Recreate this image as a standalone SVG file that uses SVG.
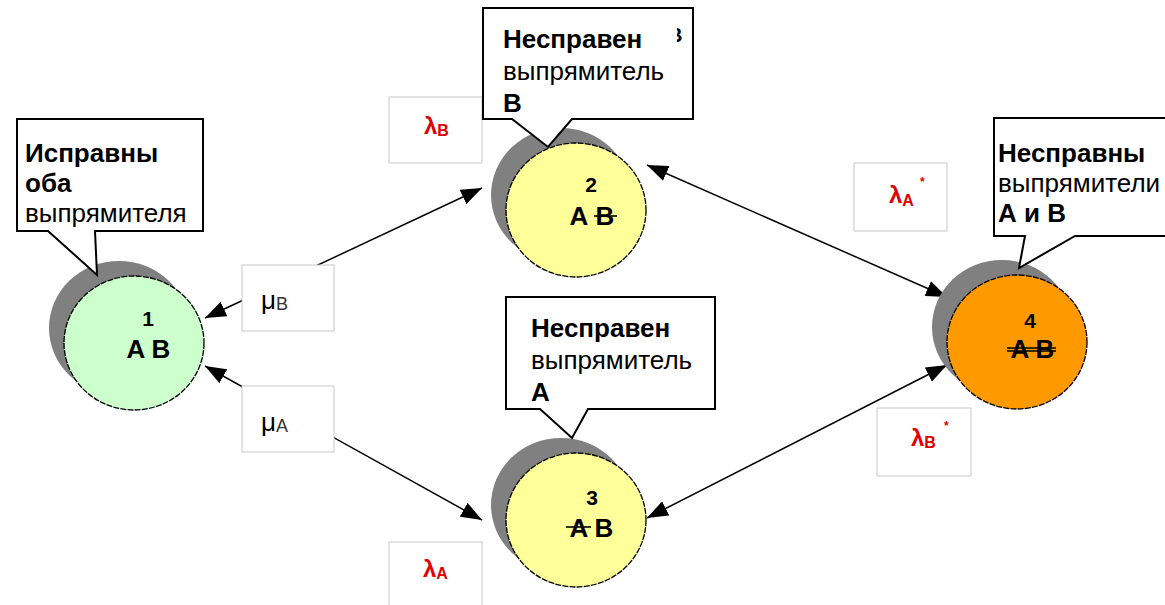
<svg xmlns="http://www.w3.org/2000/svg" width="1165" height="605" viewBox="0 0 1165 605">
<style>
text{font-family:"Liberation Sans",Arial,sans-serif;}
.shadow{fill:#808080;}
.node{stroke:#000;stroke-width:1.3;stroke-dasharray:6 1.2;}
.num{font-size:21px;font-weight:bold;fill:#000;text-anchor:middle;}
.st{font-size:26px;font-weight:bold;fill:#000;text-anchor:middle;}
.strike{stroke:#000;stroke-width:1.6;}
.callout{fill:#fff;stroke:#000;stroke-width:2;stroke-linejoin:miter;}
.ct{font-size:26px;fill:#000;}
.b{font-weight:bold;}
.lbl{fill:#fff;stroke:#c8c8c8;stroke-width:1;}
.lam{font-size:24px;font-weight:bold;fill:#e00000;}
.lamsub{font-size:16px;font-weight:bold;fill:#e00000;}
.ast{font-size:12px;font-weight:bold;fill:#e00000;}
.mu{font-size:26px;fill:#000;}
.musub{font-size:18px;fill:#333;}
.conn{stroke:#000;stroke-width:1.5;fill:none;marker-start:url(#ah);marker-end:url(#ah);}
</style>
<defs>
<marker id="ah" markerUnits="userSpaceOnUse" markerWidth="21" markerHeight="16" refX="21" refY="8" orient="auto-start-reverse">
<path d="M0,0 L21,8 L0,16 Z" fill="#000"/>
</marker>
<clipPath id="fragclip"><rect x="677" y="24" width="8" height="22"/></clipPath>
</defs>
<rect x="0" y="0" width="1165" height="605" fill="#fff"/>

<g id="connectors">
<line class="conn" x1="205" y1="318" x2="482" y2="188"/>
<line class="conn" x1="205" y1="366" x2="482" y2="520"/>
<line class="conn" x1="647" y1="165" x2="947" y2="297"/>
<line class="conn" x1="647" y1="518" x2="947" y2="365"/>
</g>

<g id="label-muB">
<rect class="lbl" x="242" y="265" width="92" height="66"/>
<text x="261" y="309"><tspan class="mu">μ</tspan><tspan class="musub" dy="1">B</tspan></text>
</g>
<g id="label-muA">
<rect class="lbl" x="242" y="386" width="92" height="66"/>
<text x="261" y="431"><tspan class="mu">μ</tspan><tspan class="musub" dy="1">A</tspan></text>
</g>
<g id="label-lamB">
<rect class="lbl" x="389" y="97" width="93" height="66"/>
<text x="424" y="134"><tspan class="lam">λ</tspan><tspan class="lamsub" dy="2">B</tspan></text>
</g>
<g id="label-lamA">
<rect class="lbl" x="389" y="542" width="93" height="66"/>
<text x="423" y="577"><tspan class="lam">λ</tspan><tspan class="lamsub" dy="2">A</tspan></text>
</g>
<g id="label-lamAstar">
<rect class="lbl" x="854" y="163" width="93" height="68"/>
<text x="889" y="203"><tspan class="lam">λ</tspan><tspan class="lamsub" dy="3">A</tspan></text>
<text class="ast" x="920" y="186">*</text>
</g>
<g id="label-lamBstar">
<rect class="lbl" x="877" y="408" width="94" height="68"/>
<text x="911" y="446"><tspan class="lam">λ</tspan><tspan class="lamsub" dy="2">B</tspan></text>
<text class="ast" x="944" y="430">*</text>
</g>

<g id="node1">
<ellipse class="shadow" cx="119" cy="328" rx="70" ry="67"/>
<ellipse class="node" cx="134" cy="343" rx="70" ry="67" fill="#ccffcc"/>
<text class="num" x="148" y="326">1</text>
<text class="st" x="136" y="358">A</text>
<text class="st" x="161" y="358">B</text>
</g>
<g id="node2">
<ellipse class="shadow" cx="561" cy="195" rx="70" ry="67"/>
<ellipse class="node" cx="576" cy="210" rx="70" ry="67" fill="#ffff99"/>
<text class="num" x="591" y="192">2</text>
<text class="st" x="579" y="225">A</text>
<text class="st" x="605" y="225">B</text>
<line class="strike" x1="594" y1="216" x2="617" y2="216"/>
</g>
<g id="node3">
<ellipse class="shadow" cx="561" cy="505" rx="70" ry="67"/>
<ellipse class="node" cx="576" cy="520" rx="70" ry="67" fill="#ffff99"/>
<text class="num" x="592" y="505">3</text>
<text class="st" x="579" y="537">A</text>
<text class="st" x="604" y="537">B</text>
<line class="strike" x1="566" y1="527" x2="591" y2="527"/>
</g>
<g id="node4">
<ellipse class="shadow" cx="1002" cy="327" rx="70" ry="67"/>
<ellipse class="node" cx="1017" cy="342" rx="70" ry="67" fill="#ff9900"/>
<text class="num" x="1030" y="328">4</text>
<text class="st" x="1020" y="358">A</text>
<text class="st" x="1045" y="358">B</text>
<line class="strike" x1="1007" y1="348" x2="1056" y2="348"/>
<line class="strike" x1="1007" y1="351" x2="1056" y2="351" stroke-width="1"/>
</g>

<g id="callout1">
<path class="callout" d="M17,119 H203 V231 H95 L97,275 L48,231 H17 Z"/>
<text class="ct" x="25" y="162"><tspan class="b">Исправны</tspan><tspan class="b" x="25" dy="30">оба</tspan><tspan x="25" dy="30">выпрямителя</tspan></text>
</g>
<g id="callout2">
<path class="callout" d="M483,8 H693 V119 H572 L548,147 L512,119 H483 Z"/>
<text class="ct" x="503" y="48"><tspan class="b">Несправен</tspan><tspan x="503" dy="32">выпрямитель</tspan><tspan class="b" x="503" dy="32">В</tspan></text>
<text class="b" x="668" y="42" font-size="20" clip-path="url(#fragclip)">В</text>
</g>
<g id="callout3">
<path class="callout" d="M506,297 H715 V409 H588 L572,438 L540,409 H506 Z"/>
<text class="ct" x="531" y="337"><tspan class="b">Несправен</tspan><tspan x="531" dy="32">выпрямитель</tspan><tspan class="b" x="531" dy="32">А</tspan></text>
</g>
<g id="callout4">
<path class="callout" d="M994,118 H1170 V236 H1075 L1019,268 L1025,236 H994 Z"/>
<text class="ct" x="998" y="162"><tspan class="b">Несправны</tspan><tspan x="998" dy="30">выпрямители</tspan><tspan class="b" x="998" dy="30">А и В</tspan></text>
</g>
</svg>
